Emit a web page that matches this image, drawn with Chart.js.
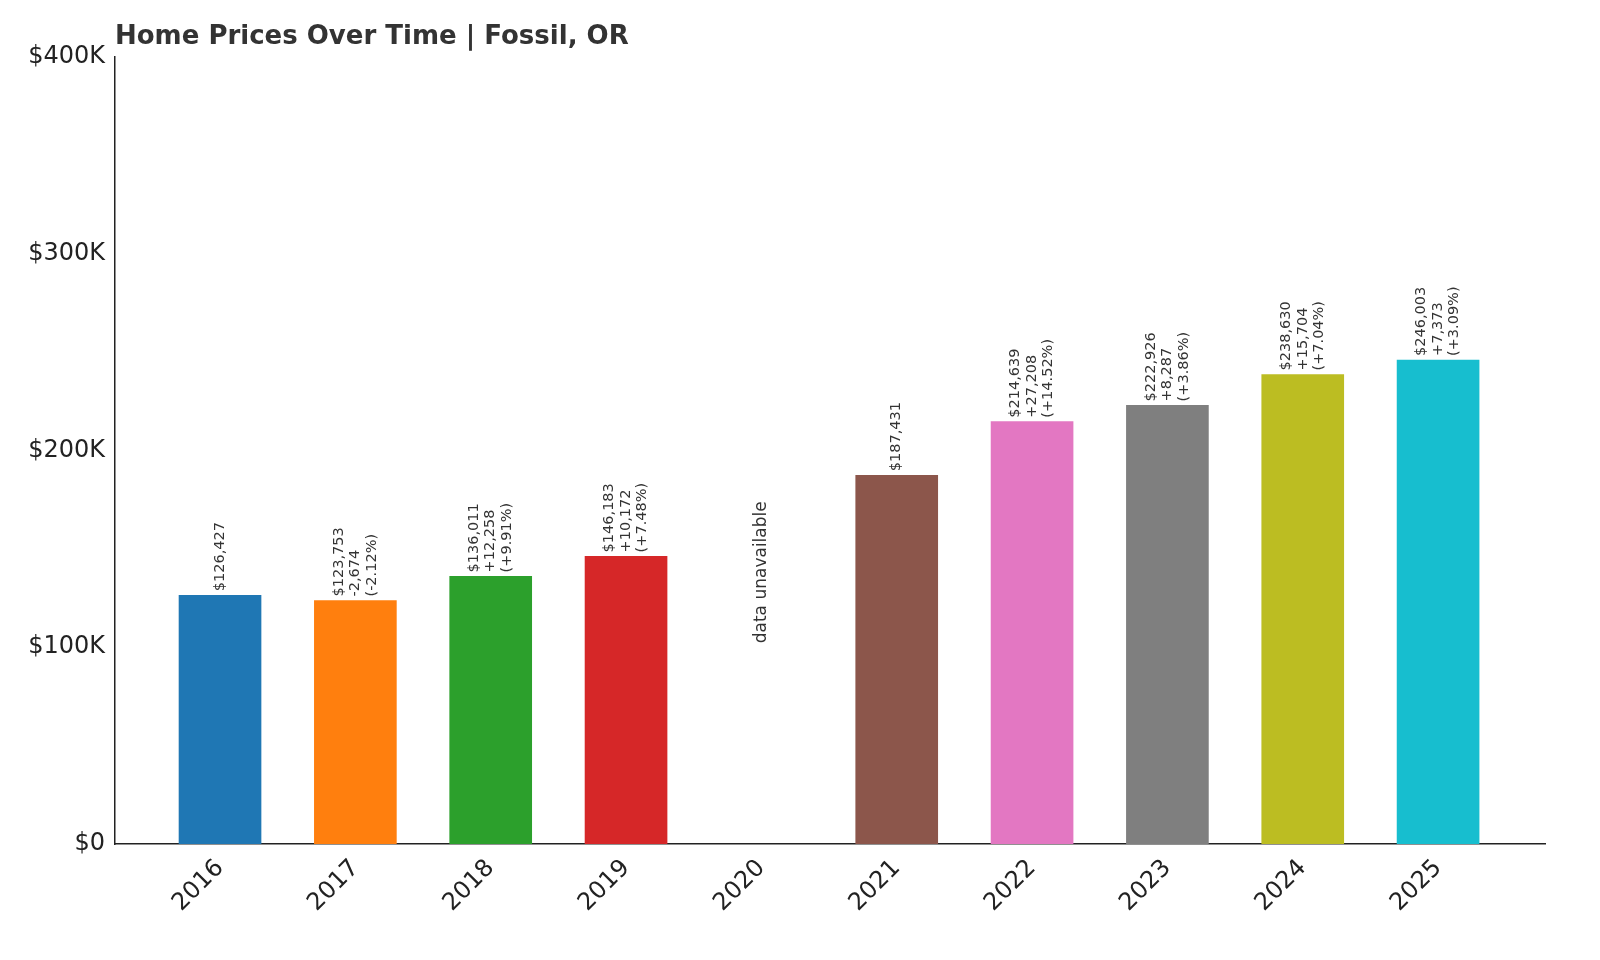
<!DOCTYPE html>
<html><head><meta charset="utf-8">
<script src="https://cdn.jsdelivr.net/npm/chart.js@4"></script>
<style>html,body{margin:0;background:#fff}#w{width:1600px;height:960px}</style>
</head><body><div id="w"><canvas id="c"></canvas></div>
<script>
const years = [2016,2017,2018,2019,2020,2021,2022,2023,2024,2025];
const prices = [126427,123753,136011,146183,null,187431,214639,222926,238630,246003];
const labelLines = [
 ["$126,427"],
 ["$123,753","-2,674","(-2.12%)"],
 ["$136,011","+12,258","(+9.91%)"],
 ["$146,183","+10,172","(+7.48%)"],
 ["data unavailable"],
 ["$187,431"],
 ["$214,639","+27,208","(+14.52%)"],
 ["$222,926","+8,287","(+3.86%)"],
 ["$238,630","+15,704","(+7.04%)"],
 ["$246,003","+7,373","(+3.09%)"]
];
const colors = ['#1f77b4','#ff7f0e','#2ca02c','#d62728','#9467bd','#8c564b','#e377c2','#7f7f7f','#bcbd22','#17becf'];
const yTicks = [0,100000,200000,300000,400000];
const title = "Home Prices Over Time | Fossil, OR";
const F = "'DejaVu Sans', sans-serif";

const labelPlugin = {
 id:'lbl',
 afterDatasetsDraw(chart){
  const ctx=chart.ctx, xs=chart.scales.x, ys=chart.scales.y;
  ctx.save();
  ctx.fillStyle='#333';
  years.forEach((yr,i)=>{
   const lines=labelLines[i];
   const na = prices[i]===null;
   ctx.font=(na?'17px ':'14.5px ')+F;
   const x=xs.getPixelForValue(yr);
   const yv = na ? 100000 : prices[i];
   const y=ys.getPixelForValue(yv)-4;
   ctx.save(); ctx.translate(x,y); ctx.rotate(-Math.PI/2);
   ctx.textAlign='left'; ctx.textBaseline='middle';
   const lh=16.5, n=lines.length;
   lines.forEach((t,k)=>ctx.fillText(t, 0, (k-(n-1)/2)*lh));
   ctx.restore();
  });
  ctx.font='bold 26px '+F; ctx.fillStyle='#333'; ctx.textAlign='left'; ctx.textBaseline='alphabetic';
  ctx.fillText(title,115,44);
  ctx.restore();
 }
};

new Chart(document.getElementById('c'),{
 type:'bar',
 data:{datasets:[{data:years.map((y,i)=>({x:y,y:prices[i]})),backgroundColor:colors,barThickness:82}]},
 options:{
  responsive:true,maintainAspectRatio:false,animation:false,
  layout:{padding:{top:57,right:55,left:0,bottom:0}},
  plugins:{legend:{display:false},tooltip:{enabled:false}},
  scales:{
   x:{type:'linear',min:2015.224,max:2025.79,offset:false,
      afterBuildTicks:s=>{s.ticks=years.map(v=>({value:v}));},
      afterFit:s=>{s.height=116;},
      grid:{display:false,drawOnChartArea:false,drawTicks:true,tickLength:6,tickColor:'#222'},
      border:{color:'#222',width:1.5},
      ticks:{color:'#222',font:{family:F,size:24},maxRotation:45,minRotation:45,callback:v=>String(v),padding:4}},
   y:{min:0,max:400000,
      afterBuildTicks:s=>{s.ticks=yTicks.map(v=>({value:v}));},
      afterFit:s=>{s.width=115;},
      grid:{display:false,drawTicks:true,tickLength:6,tickColor:'#222'},
      border:{color:'#222',width:1.5},
      ticks:{color:'#222',font:{family:F,size:24},padding:4,callback:v=>v===0?'$0':'$'+(v/1000)+'K'}}
  }
 },
 plugins:[labelPlugin]
});
</script></body></html>
